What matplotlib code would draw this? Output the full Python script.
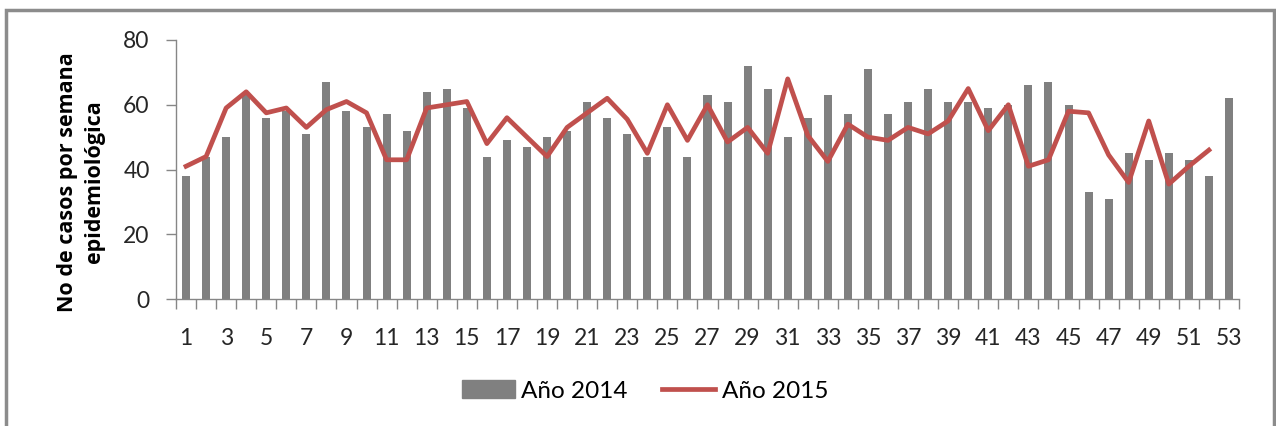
import matplotlib.pyplot as plt
import matplotlib.patches as mpatches
import matplotlib.lines as mlines
import numpy as np

plt.rcParams['font.family'] = ['Lato', 'DejaVu Sans']

weeks_2014 = list(range(1, 54))
cases_2014 = [38, 44, 50, 63, 56, 58, 51, 67, 58, 53, 57, 52, 64, 65, 59, 44, 49, 47, 50, 52,
              61, 56, 51, 44, 53, 44, 63, 61, 72, 65, 50, 56, 63, 57, 71, 57, 61, 65, 61, 61,
              59, 60, 66, 67, 60, 33, 31, 45, 43, 45, 43, 38, 62]
weeks_2015 = list(range(1, 53))
cases_2015 = [41, 44, 59, 64, 57.5, 59, 53, 58.5, 61, 57.5, 43, 43, 59, 60, 61, 48, 56, 50, 44, 53,
              57.5, 62, 55.5, 45, 60, 49, 60, 48.5, 53, 45, 68, 50.5, 42.5, 54, 50, 49, 53, 51, 55, 65,
              52, 60, 41, 43, 58, 57.5, 44.5, 36, 55, 35.5, 41, 46]
odd_labels = [str(w) for w in weeks_2014 if w % 2 == 1]

BAR_C = '#808080'
LINE_C = '#C0504D'
AX_C = '#868686'

fig = plt.figure(figsize=(12.76, 4.26), dpi=100)
ax = fig.add_axes([176 / 1276, 1 - 299 / 426, (1239 - 176) / 1276, (299 - 40) / 426])

ax.bar(weeks_2014, cases_2014, width=0.4, color=BAR_C, zorder=2)
ax.plot(weeks_2015, cases_2015, color=LINE_C, lw=3.4, zorder=3)

ax.set_xlim(0.5, 53.5)
ax.set_ylim(0, 80)
ax.set_yticks([0, 20, 40, 60, 80])
ax.tick_params(axis='y', length=7, width=1, color=AX_C, labelsize=16.5, pad=12,
               labelcolor='#262626')

# tick marks between categories, labels on odd weeks
ax.set_xticks(np.arange(0.5, 54, 1))
ax.set_xticklabels([])
ax.tick_params(axis='x', which='major', length=7, width=1, color=AX_C)
ax.set_xticks([w for w in weeks_2014 if w % 2 == 1], minor=True)
ax.set_xticklabels(odd_labels, minor=True)
ax.tick_params(axis='x', which='minor', length=0, labelsize=16.5, pad=21,
               labelcolor='#262626')

for s in ['top', 'right']:
    ax.spines[s].set_visible(False)
for s in ['left', 'bottom']:
    ax.spines[s].set_color(AX_C)
    ax.spines[s].set_linewidth(1)

fig.text(81 / 1276, 1 - 182 / 426, 'No de casos por semana\nepidemiológica',
         rotation=90, ha='center', va='center', fontsize=15.5, fontweight='bold',
         family=['Open Sans', 'DejaVu Sans'], linespacing=1.35)

handles = [mpatches.Patch(color=BAR_C, label='Año 2014'),
           mlines.Line2D([], [], color=LINE_C, lw=3.4, label='Año 2015')]
fig.legend(handles=handles, loc='center', bbox_to_anchor=(645 / 1276, 1 - 391 / 426),
           ncol=2, frameon=False, fontsize=17.5, handlelength=2.2, handleheight=0.7,
           handletextpad=0.25, columnspacing=1.4)

# outer chart frame
fig.add_artist(mpatches.Rectangle((6 / 1276, -0.05), (1274 - 6) / 1276, 1 - 10 / 426 + 0.05,
                                  transform=fig.transFigure, fill=False,
                                  edgecolor='#8c8c8c', lw=2.5))

fig.savefig('out.png', dpi=100)
plt.close(fig)
